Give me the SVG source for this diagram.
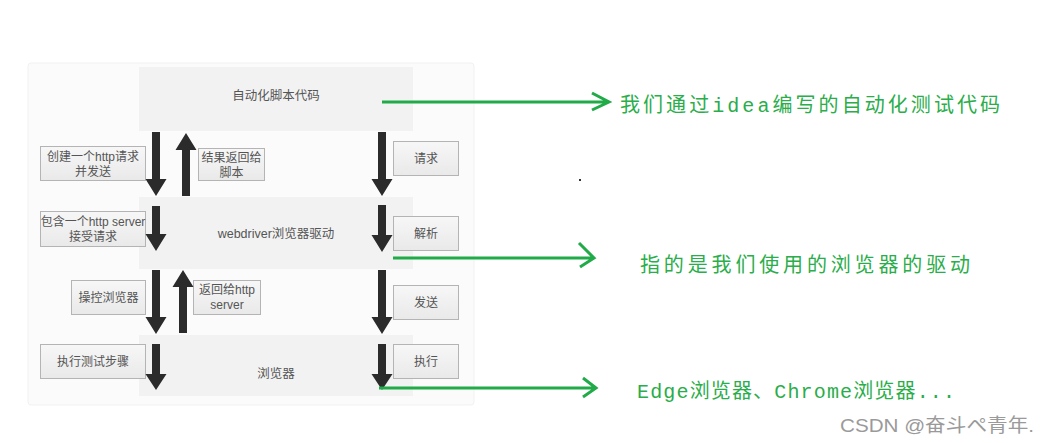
<svg xmlns="http://www.w3.org/2000/svg" width="1048" height="443" viewBox="0 0 1048 443">
<defs>
<linearGradient id="lbl" x1="0" y1="0" x2="0" y2="1">
<stop offset="0" stop-color="#f7f7f7"/>
<stop offset="1" stop-color="#e9e9e9"/>
</linearGradient>
<style>
.panel{fill:#fbfbfb;stroke:#f1f1f1;stroke-width:1}
.big{fill:#f2f2f2}
.lbl{fill:url(#lbl);stroke:#b4b4b4;stroke-width:1}
.t{font-family:"Liberation Sans","Noto Sans CJK SC",sans-serif;font-size:12px;fill:#555;text-anchor:middle}
.bt{font-family:"Liberation Sans","Noto Sans CJK SC",sans-serif;font-size:12.5px;fill:#555;text-anchor:middle}
.arr{fill:#2b2b2b}
.gl{stroke:#21ab48;stroke-width:3;fill:none}
.gt{font-family:"Liberation Mono","Noto Sans CJK SC",monospace;font-size:20px;fill:#2aad4a}
.wm{font-family:"Liberation Sans","Noto Sans CJK SC",sans-serif;font-size:19px;fill:#9a9a9a}
</style>
</defs>
<rect width="1048" height="443" fill="#ffffff"/>
<rect class="panel" x="28" y="63" width="446" height="342" rx="3"/>

<g id="node-script">
<rect class="big" x="139" y="67" width="274" height="64"/>
<text class="bt" x="276" y="100">自动化脚本代码</text>
</g>
<g id="node-driver">
<rect class="big" x="139" y="197" width="274" height="72"/>
<text class="bt" x="276" y="238">webdriver浏览器驱动</text>
</g>
<g id="node-browser">
<rect class="big" x="139" y="335" width="274" height="61"/>
<text class="bt" x="276" y="378">浏览器</text>
</g>

<g id="label-create">
<rect class="lbl" x="40.5" y="146.5" width="105" height="34"/>
<text class="t" x="93" y="161">创建一个http请求</text>
<text class="t" x="93" y="176">并发送</text>
</g>
<g id="label-result">
<rect class="lbl" x="198.5" y="148.5" width="66" height="32"/>
<text class="t" x="231.5" y="162">结果返回给</text>
<text class="t" x="231.5" y="177">脚本</text>
</g>
<g id="label-request">
<rect class="lbl" x="393.5" y="141.5" width="65" height="34"/>
<text class="t" x="426" y="163">请求</text>
</g>
<g id="label-server">
<rect class="lbl" x="40.5" y="211.5" width="105" height="35"/>
<text class="t" x="93" y="226">包含一个http server</text>
<text class="t" x="93" y="241">接受请求</text>
</g>
<g id="label-parse">
<rect class="lbl" x="393.5" y="216.5" width="65" height="34"/>
<text class="t" x="426" y="238">解析</text>
</g>
<g id="label-control">
<rect class="lbl" x="71.5" y="280.5" width="74" height="34"/>
<text class="t" x="108.5" y="302">操控浏览器</text>
</g>
<g id="label-return">
<rect class="lbl" x="193.5" y="280.5" width="67" height="34"/>
<text class="t" x="227" y="294">返回给http</text>
<text class="t" x="227" y="309">server</text>
</g>
<g id="label-send">
<rect class="lbl" x="393.5" y="285.5" width="65" height="34"/>
<text class="t" x="426" y="307">发送</text>
</g>
<g id="label-steps">
<rect class="lbl" x="40.5" y="344.5" width="105" height="34"/>
<text class="t" x="93" y="366">执行测试步骤</text>
</g>
<g id="label-exec">
<rect class="lbl" x="393.5" y="344.5" width="65" height="34"/>
<text class="t" x="426" y="366">执行</text>
</g>

<g id="connectors">
<polygon class="arr" points="152,132 160,132 160,179 166.5,179 156,196 145.5,179 152,179"/>
<polygon class="arr" points="182,196 190,196 190,150 196.5,150 186,133 175.5,150 182,150"/>
<polygon class="arr" points="378,132 386,132 386,179 392.5,179 382,196 371.5,179 378,179"/>
<polygon class="arr" points="152,206 160,206 160,234 166.5,234 156,251 145.5,234 152,234"/>
<polygon class="arr" points="378,205 386,205 386,235 392.5,235 382,252 371.5,235 378,235"/>
<polygon class="arr" points="152,270 160,270 160,317 166.5,317 156,334 145.5,317 152,317"/>
<polygon class="arr" points="179,333 187,333 187,287 193.5,287 183,270 172.5,287 179,287"/>
<polygon class="arr" points="378,270 386,270 386,317 392.5,317 382,334 371.5,317 378,317"/>
<polygon class="arr" points="152,344 160,344 160,374 166.5,374 156,390 145.5,374 152,374"/>
<polygon class="arr" points="378,344 386,344 386,374 392.5,374 382,390 371.5,374 378,374"/>

<path class="gl" d="M382,102 H608 M592,93 L609,102 L592,110"/>
<path class="gl" d="M393,258 H593 M579,243 L594,258 L580,267"/>
<path class="gl" d="M379,388 H595 M583,378 L596,388 L583,397"/>
</g>

<g id="notes">
<text class="gt" x="620" y="112" textLength="380" lengthAdjust="spacing">我们通过idea编写的自动化测试代码</text>
<text class="gt" x="640" y="272" textLength="330" lengthAdjust="spacing">指的是我们使用的浏览器的驱动</text>
<text class="gt" x="637" y="398" textLength="318" lengthAdjust="spacing">Edge浏览器、Chrome浏览器...</text>
</g>
<rect x="579" y="179" width="2" height="2" fill="#333"/>
<text class="wm" x="840" y="432" textLength="194" lengthAdjust="spacingAndGlyphs">CSDN @奋斗ぺ青年.</text>
</svg>
